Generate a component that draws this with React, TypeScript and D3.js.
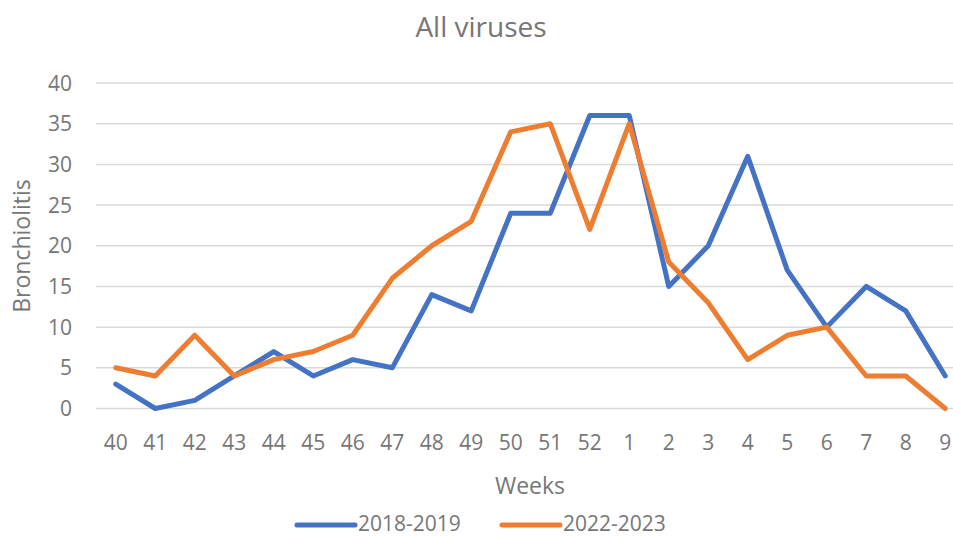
import React from 'react';
import * as d3 from 'd3';

const weeks = ['40', '41', '42', '43', '44', '45', '46', '47', '48', '49', '50', '51', '52', '1', '2', '3', '4', '5', '6', '7', '8', '9'];
const season2018 = [3, 0, 1, 4, 7, 4, 6, 5, 14, 12, 24, 24, 36, 36, 15, 20, 31, 17, 10, 15, 12, 4];
const season2022 = [5, 4, 9, 4, 6, 7, 9, 16, 20, 23, 34, 35, 22, 35, 18, 13, 6, 9, 10, 4, 4, 0];
const yTicks = [0, 5, 10, 15, 20, 25, 30, 35, 40];

const series = [
    { name: '2018-2019', values: season2018, color: '#4472C4' },
    { name: '2022-2023', values: season2022, color: '#ED7D31' },
];

const W = 953;
const H = 537;
const FONT = '"Open Sans", Lato, sans-serif';
const GREY = '#767676';

export default function App() {
    const x = d3.scalePoint<string>()
        .domain(weeks)
        .range([96, 965])
        .padding(0.5);

    const y = d3.scaleLinear()
        .domain([0, 40])
        .range([408.5, 83]);

    const line = d3.line<number>()
        .x((d, i) => x(weeks[i])!)
        .y(d => y(d));

    return (
        <svg width={W} height={H} style={{ position: 'absolute', left: 0, top: 0, background: '#fff' }}
            fontFamily={FONT}>
            <text x={481} y={37} textAnchor="middle" fontSize={28} fill={GREY}>All viruses</text>

            {/* grid */}
            {yTicks.map(t => (
                <line key={t} x1={96} x2={965} y1={y(t)} y2={y(t)} stroke="#D9D9D9" strokeWidth={1.5} />
            ))}

            {/* y labels */}
            {yTicks.map(t => (
                <text key={t} x={72} y={y(t)} dy="0.36em" textAnchor="end" fontSize={21} fill={GREY}>{t}</text>
            ))}

            {/* x labels */}
            {weeks.map(w => (
                <text key={w} x={x(w)!} y={450} textAnchor="middle" fontSize={21} fill={GREY}>{w}</text>
            ))}

            <text transform="translate(30,246) rotate(-90)" textAnchor="middle" fontSize={23} fill={GREY}>Bronchiolitis</text>
            <text x={530} y={494} textAnchor="middle" fontSize={23} fill={GREY}>Weeks</text>

            {series.map(s => (
                <path key={s.name} d={line(s.values)!} fill="none" stroke={s.color}
                    strokeWidth={5} strokeLinejoin="round" strokeLinecap="round" />
            ))}

            {/* legend */}
            {series.map((s, i) => {
                const lx = 297 + i * 205;
                return (
                    <g key={s.name}>
                        <line x1={lx} x2={lx + 58} y1={525} y2={525} stroke={s.color} strokeWidth={5} strokeLinecap="round" />
                        <text x={lx + 61} y={531} fontSize={21} fill={GREY}>{s.name}</text>
                    </g>
                );
            })}
        </svg>
    );
}
